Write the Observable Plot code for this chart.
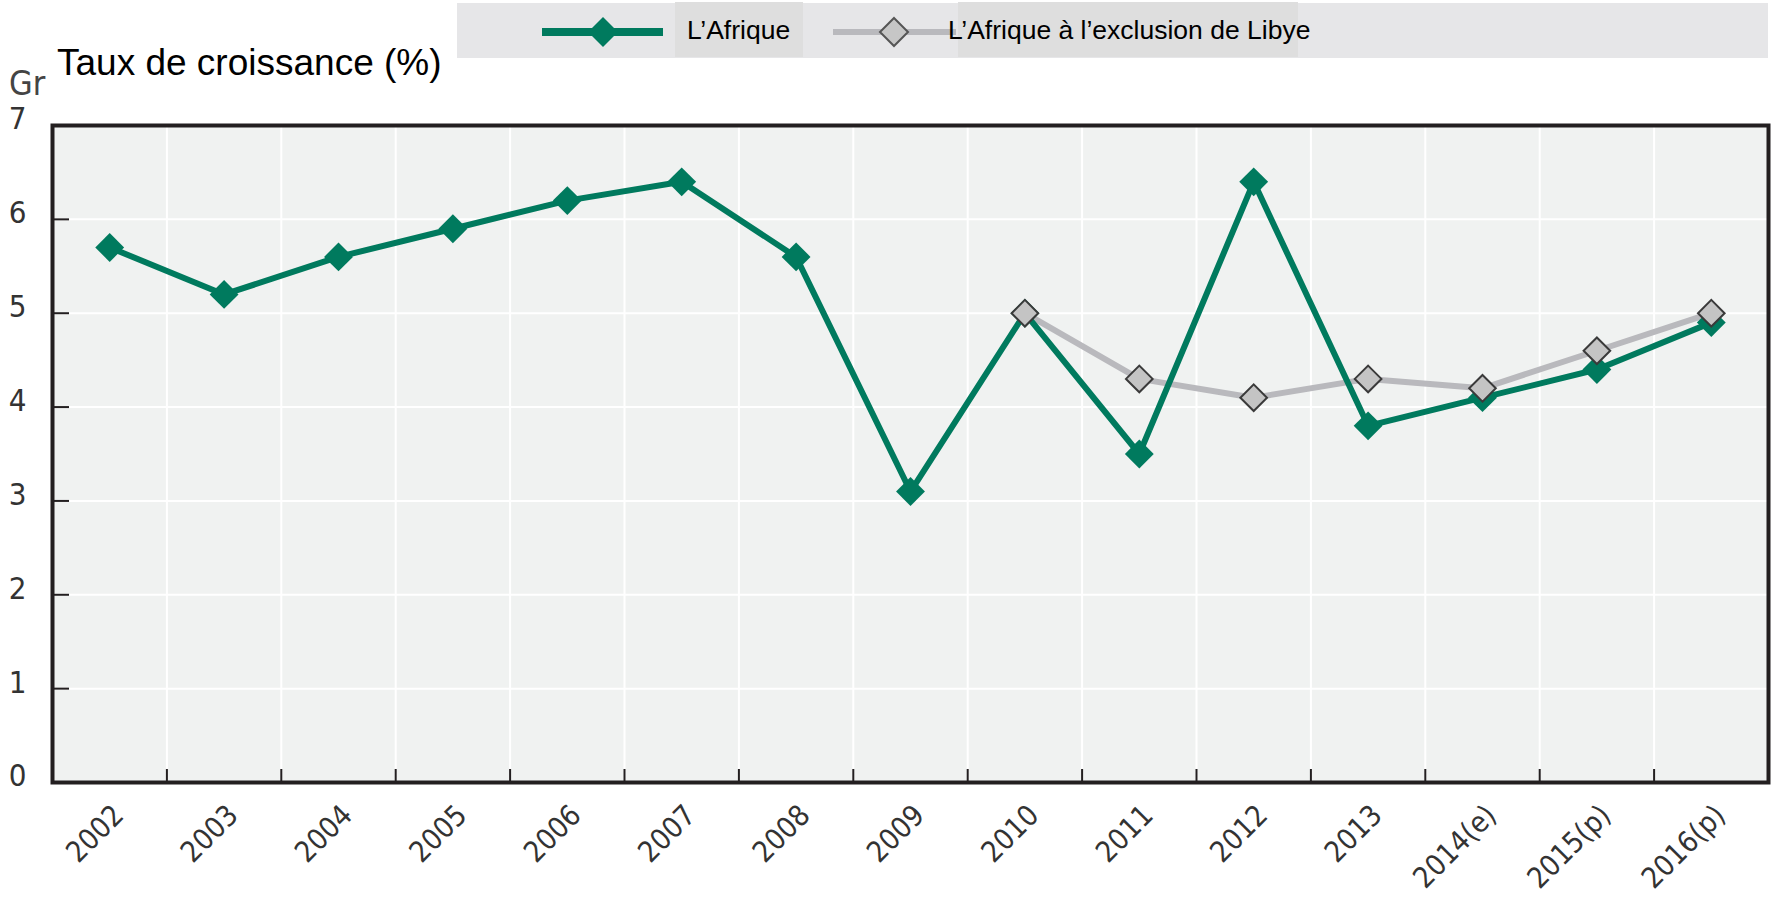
<!DOCTYPE html>
<html>
<head>
<meta charset="utf-8">
<script src="https://cdn.jsdelivr.net/npm/d3@7"></script>
<script src="https://cdn.jsdelivr.net/npm/@observablehq/plot@0.6"></script>
<style>
  html, body { margin: 0; padding: 0; background: #fff; }
  #wrap { width: 1771px; height: 899px; position: relative; overflow: hidden; }
  #header { position: relative; width: 1771px; height: 100px; }
  .abs { position: absolute; white-space: nowrap; }
  .title { left: 57px; top: 44px; font-family: "Liberation Sans", Arial, sans-serif; font-size: 37px; color: #000; line-height: 1; }
  .gr { left: 9px; top: 66px; font-family: "Liberation Sans Narrow", "DejaVu Sans Condensed", sans-serif; font-stretch: condensed; font-size: 34px; color: #444; line-height: 1; }
  .legend { left: 457px; top: 3px; width: 1311px; height: 55px; background: #e6e6e8; }
  .lgtxt { font-family: "Liberation Sans", Arial, sans-serif; font-size: 26.5px; color: #000; line-height: 1; }
  .lgbg { background: #dedede; }
  svg.plot { display: block; overflow: visible; }
</style>
</head>
<body>
<div id="wrap">
  <div id="header"></div>
  <div id="chart"></div>
</div>
<script>
// ---- data ----
const years = ["2002","2003","2004","2005","2006","2007","2008","2009","2010","2011","2012","2013","2014(e)","2015(p)","2016(p)"];
const afrique = [5.7, 5.2, 5.6, 5.9, 6.2, 6.4, 5.6, 3.1, 5.0, 3.5, 6.4, 3.8, 4.1, 4.4, 4.9];
const exclYears = ["2010","2011","2012","2013","2014(e)","2015(p)","2016(p)"];
const exclLibye = [5.0, 4.3, 4.1, 4.3, 4.2, 4.6, 5.0];
const yTicks = [0, 1, 2, 3, 4, 5, 6, 7];
const seriesNames = ["L\u2019Afrique", "L\u2019Afrique \u00e0 l\u2019exclusion de Libye"];
const titleText = "Taux de croissance (%)";

const green = "#007a5e";
const grey = "#b9b9bd";

// ---- tables ----
const afData = years.map((y, i) => ({i, year: y, v: afrique[i]}));
const exData = exclYears.map((y, k) => ({i: years.indexOf(y), year: y, v: exclLibye[k]}));
const idx = years.map((_, i) => i);
const bounds = idx.slice(1).map(i => i - 0.5);

// ---- header (title + legend) ----
const header = document.getElementById("header");
header.innerHTML = `
  <div class="abs gr">Gr</div>
  <div class="abs title">${titleText}</div>
  <div class="abs legend"></div>
  <div class="abs lgbg" style="left:675px;top:2px;width:128px;height:55px"></div>
  <div class="abs lgbg" style="left:958px;top:2px;width:340px;height:55px"></div>
  <svg class="abs" style="left:0;top:0" width="1771" height="60">
    <line x1="542" x2="663" y1="32" y2="32" stroke="${green}" stroke-width="8"/>
    <path d="M603,17 L618,32 L603,47 L588,32 Z" fill="${green}"/>
    <line x1="833" x2="956" y1="32" y2="32" stroke="${grey}" stroke-width="6"/>
    <path d="M894,18 L908,32 L894,46 L880,32 Z" fill="#c6c6c6" stroke="#555" stroke-width="2"/>
  </svg>
  <div class="abs lgtxt" style="left:687px;top:17px">${seriesNames[0]}</div>
  <div class="abs lgtxt" style="left:948px;top:17px">${seriesNames[1]}</div>
`;

// ---- chart ----
const condensed = "'Liberation Sans Narrow', 'DejaVu Sans Condensed', sans-serif";
const chart = Plot.plot({
  width: 1771,
  height: 799,
  marginLeft: 52,
  marginRight: 3,
  marginTop: 25,
  marginBottom: 117,
  x: {domain: [-0.5, 14.5], axis: null},
  y: {domain: [0, 7], axis: null},
  style: {background: "transparent", fontFamily: condensed, color: "#333"},
  marks: [
    Plot.frame({fill: "#f0f2f1"}),
    Plot.gridX(bounds, {stroke: "#ffffff", strokeOpacity: 1, strokeWidth: 2}),
    Plot.gridY(yTicks.slice(1, -1), {stroke: "#ffffff", strokeOpacity: 1, strokeWidth: 2}),
    // inward ticks
    Plot.axisX(bounds, {tickSize: -13, fill: "none", stroke: "#231f20", strokeWidth: 2, label: null}),
    Plot.axisY(yTicks.slice(1, -1), {tickSize: -17, fill: "none", stroke: "#231f20", strokeWidth: 2, label: null}),
    // labels
    Plot.axisY(yTicks, {tickSize: 0, tickPadding: 26, dy: -6, tickFormat: d => String(d), fontSize: 31, fill: "#333", label: null}),
    Plot.axisX(idx, {tickSize: 0, tickFormat: i => years[i], tickRotate: -45, textAnchor: "end", tickPadding: 28, dx: 9, fontSize: 29, fill: "#333", label: null}),
    // series
    Plot.line(exData, {x: "i", y: "v", stroke: grey, strokeWidth: 6}),
    Plot.line(afData, {x: "i", y: "v", stroke: green, strokeWidth: 6}),
    Plot.dot(afData, {x: "i", y: "v", symbol: "diamond2", r: 13, fill: green, stroke: "none"}),
    Plot.dot(exData, {x: "i", y: "v", symbol: "diamond2", r: 12, fill: "#c4c4c4", stroke: "#3a3a3a", strokeWidth: 2}),
    Plot.frame({stroke: "#231f20", strokeWidth: 4})
  ]
});
document.getElementById("chart").appendChild(chart);
</script>
</body>
</html>
